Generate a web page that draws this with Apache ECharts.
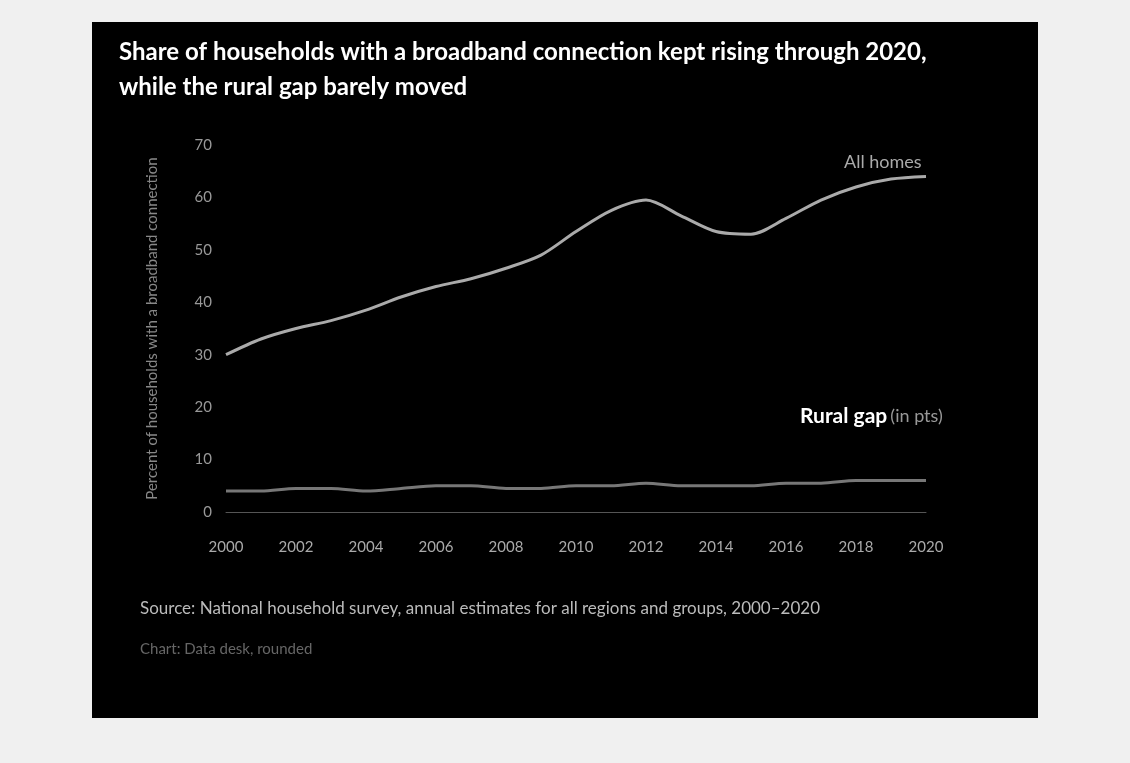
<!doctype html>
<html lang="en">
<head>
<meta charset="UTF-8">
<style>
  html, body { margin: 0; padding: 0; background: #f0f0f0; }
  #main { position: absolute; left: 92px; top: 22px; width: 946px; height: 696px; background: #000; }
</style>
</head>
<body>
<div id="main"></div>
<script src="https://cdn.jsdelivr.net/npm/echarts@6/dist/echarts.min.js"></script>
<script>
// data
var years = ['2000','2001','2002','2003','2004','2005','2006','2007','2008','2009','2010',
             '2011','2012','2013','2014','2015','2016','2017','2018','2019','2020'];
var mainValues = [30, 33, 35, 36.5, 38.5, 41, 43, 44.5, 46.5, 49, 53.5,
                  57.5, 59.5, 56.5, 53.5, 53, 56, 59.5, 62, 63.5, 64];
var lowValues = [4, 4, 4.5, 4.5, 4, 4.5, 5, 5, 4.5, 4.5, 5,
                 5, 5.5, 5, 5, 5, 5.5, 5.5, 6, 6, 6];
var yTicks = { min: 0, max: 70, interval: 10 };

var myChart = echarts.init(document.getElementById('main'));

var option = {
  backgroundColor: '#000',
  textStyle: { fontFamily: 'Lato' },
  title: {
    text: 'Share of households with a broadband connection kept rising through 2020,\nwhile the rural gap barely moved',
    left: 22, top: 8,
    textStyle: { color: '#fff', fontSize: 24, fontWeight: 'bold', lineHeight: 35, fontFamily: 'Lato' }
  },
  graphic: [
    { type: 'text', left: 48, top: 578,
      style: { text: 'Source: National household survey, annual estimates for all regions and groups, 2000–2020', fill: '#bbb', font: '17px Lato' } },
    { type: 'text', left: 48, top: 620,
      style: { text: 'Chart: Data desk, rounded', fill: '#666', font: '15px Lato' } }
  ],
  grid: { left: 134, right: 112, top: 123, bottom: 206, containLabel: false },
  xAxis: {
    type: 'category',
    data: years,
    boundaryGap: false,
    axisLine: { lineStyle: { color: '#555', width: 1 } },
    axisTick: { show: false },
    axisLabel: { color: '#aaa', fontSize: 15, margin: 28, interval: 1 },
    splitLine: { show: false }
  },
  yAxis: {
    type: 'value',
    min: yTicks.min, max: yTicks.max, interval: yTicks.interval,
    name: 'Percent of households with a broadband connection',
    nameLocation: 'middle',
    nameGap: 66,
    nameTextStyle: { color: '#888', fontSize: 15 },
    axisLine: { show: false },
    axisTick: { show: false },
    axisLabel: { color: '#999', fontSize: 15, margin: 14 },
    splitLine: { show: false }
  },
  series: [
    {
      name: 'All households',
      type: 'line',
      data: mainValues,
      symbol: 'none',
      smooth: 0.3,
      lineStyle: { color: '#aaa', width: 3 },
      endLabel: {
        show: true, formatter: 'All homes', color: '#aaa', fontSize: 18,
        offset: [-90, -14]
      }
    },
    {
      name: 'Rural households',
      type: 'line',
      data: lowValues,
      symbol: 'none',
      smooth: 0.3,
      lineStyle: { color: '#777', width: 3 },
      endLabel: {
        show: true,
        formatter: '{a|Rural gap} {b|(in pts)}',
        offset: [-134, -64],
        rich: {
          a: { color: '#fff', fontSize: 21, fontWeight: 'bold' },
          b: { color: '#999', fontSize: 18 }
        }
      }
    }
  ]
};

myChart.setOption(option);
</script>
</body>
</html>
